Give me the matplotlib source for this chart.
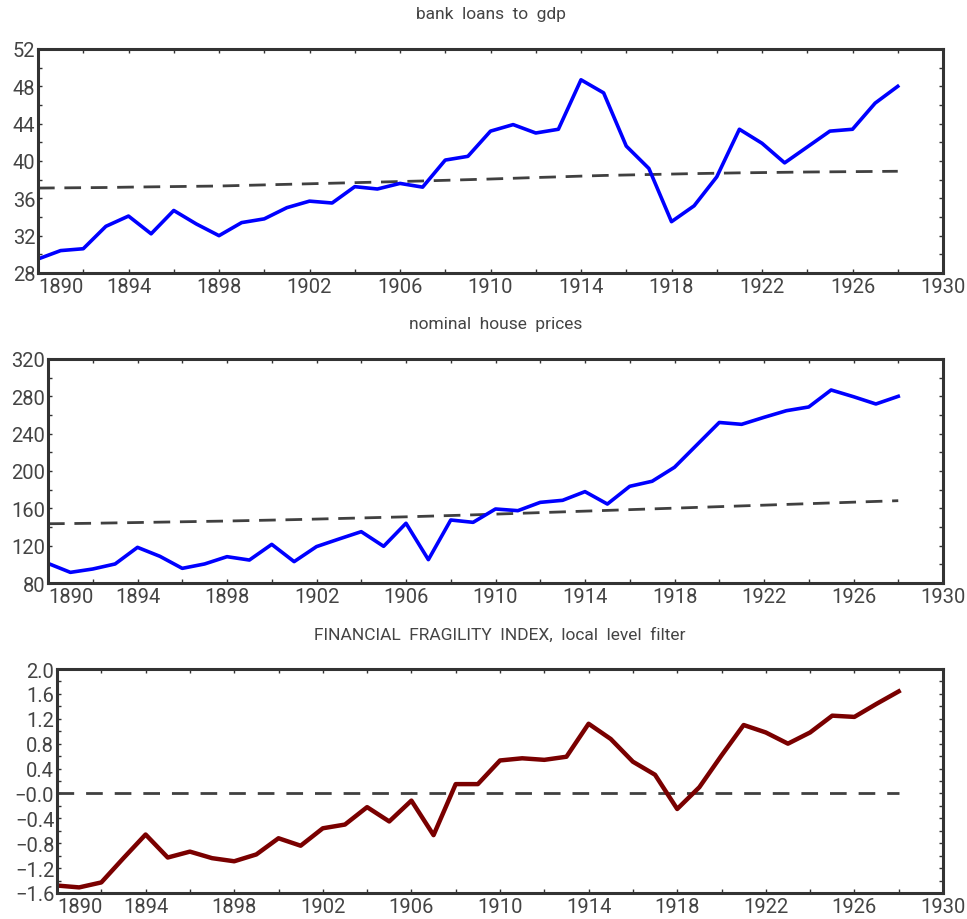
import numpy as np
import matplotlib
matplotlib.use("Agg")
import matplotlib.pyplot as plt
from matplotlib.ticker import FixedLocator, MultipleLocator

plt.rcParams['font.family'] = ['Roboto', 'Liberation Sans', 'DejaVu Sans']

years = list(range(1890, 1929))

loans_gdp = [29.5, 30.4, 30.6, 33.0, 34.1, 32.2, 34.7, 33.25, 32.0, 33.4,
             33.8, 35.0, 35.7, 35.5, 37.25, 37.0, 37.6, 37.2, 40.1, 40.5,
             43.2, 43.9, 43.0, 43.4, 48.7, 47.3, 41.6, 39.2, 33.5, 35.2,
             38.3, 43.4, 41.9, 39.8, 41.5, 43.2, 43.4, 46.2, 48.0]
loans_trend = [37.1, 37.12, 37.14, 37.16, 37.2, 37.23, 37.26, 37.29, 37.32, 37.38,
               37.44, 37.5, 37.56, 37.62, 37.68, 37.74, 37.8, 37.86, 37.93, 38.0,
               38.07, 38.15, 38.23, 38.3, 38.38, 38.45, 38.5, 38.55, 38.6, 38.65,
               38.69, 38.73, 38.76, 38.79, 38.82, 38.84, 38.86, 38.88, 38.9]

house_prices = [101, 91.4, 95, 100.4, 118.2, 108.6, 95.7, 100.4, 108.2, 104.6,
                121.4, 102.9, 119, 127.1, 135, 119.3, 144, 105, 147.5, 145,
                159.3, 157.5, 166.4, 168.6, 177.9, 164.6, 183.6, 189, 204, 228,
                252, 250, 257.5, 264.6, 268.6, 286.8, 279.6, 271.8, 280]
house_trend = [143.5, 143.7, 144.0, 144.4, 144.8, 145.2, 145.6, 146.0, 146.4, 146.9,
               147.4, 147.9, 148.5, 149.1, 149.7, 150.3, 150.9, 151.6, 152.3, 153.0,
               153.8, 154.6, 155.4, 156.2, 157.0, 157.8, 158.6, 159.4, 160.2, 161.0,
               161.8, 162.6, 163.4, 164.2, 165.0, 165.8, 166.6, 167.4, 168.2]

fragility = [-1.48, -1.51, -1.43, -1.04, -0.66, -1.03, -0.935, -1.04, -1.09, -0.98,
             -0.72, -0.84, -0.56, -0.50, -0.22, -0.45, -0.115, -0.67, 0.15, 0.15,
             0.53, 0.565, 0.54, 0.59, 1.12, 0.875, 0.51, 0.30, -0.25, 0.10,
             0.61, 1.10, 0.98, 0.80, 0.98, 1.25, 1.23, 1.44, 1.64]
fragility_zero = [0.0] * len(years)

x_ticks = [1890, 1894, 1898, 1902, 1906, 1910, 1914, 1918, 1922, 1926, 1930]
loans_ticks = [28, 32, 36, 40, 44, 48, 52]
house_ticks = [80, 120, 160, 200, 240, 280, 320]
frag_ticks = [-1.6, -1.2, -0.8, -0.4, 0.0, 0.4, 0.8, 1.2, 1.6, 2.0]
frag_labels = ['\u22121.6', '\u22121.2', '\u22120.8', '\u22120.4', '\u22120.0',
               '0.4', '0.8', '1.2', '1.6', '2.0']

text_col = '#444444'
spine_col = '#333333'
trend_col = '#404040'

fig = plt.figure(figsize=(9.67, 9.2), dpi=100)


def style_axes(ax, yticks, ylabels, ystep, title):
    ax.set_xlim(1890, 1930)
    ax.set_ylim(yticks[0], yticks[-1])
    ax.xaxis.set_major_locator(FixedLocator(x_ticks))
    ax.xaxis.set_minor_locator(MultipleLocator(2))
    ax.yaxis.set_major_locator(FixedLocator(yticks))
    ax.yaxis.set_minor_locator(MultipleLocator(ystep / 2))
    ax.set_xticklabels([str(t) for t in x_ticks])
    ax.set_yticklabels(ylabels)
    ax.tick_params(which='both', direction='in', top=True, right=True,
                   length=3, width=1, color=spine_col, labelcolor=text_col,
                   labelsize=14.5)
    ax.tick_params(axis='x', pad=3)
    ax.tick_params(axis='y', pad=2)
    # first year label sits just right of the y axis
    ax.get_xticklabels()[0].set_horizontalalignment('left')
    for s in ax.spines.values():
        s.set_linewidth(2.2)
        s.set_color(spine_col)
    ax.set_title(title, fontsize=12.5, color=text_col, pad=22)


# bank loans to gdp
ax1 = fig.add_axes([38 / 967, 646 / 920, 905 / 967, 224 / 920])
ax1.plot(years, loans_trend, color=trend_col, lw=2, dashes=(6, 3.5))
ax1.plot(years, loans_gdp, color='#0000ff', lw=2.6)
style_axes(ax1, loans_ticks, [str(t) for t in loans_ticks], 4, 'bank  loans  to  gdp')

# nominal house prices
ax2 = fig.add_axes([48 / 967, 336 / 920, 895 / 967, 224 / 920])
ax2.plot(years, house_trend, color=trend_col, lw=2, dashes=(6, 3.5))
ax2.plot(years, house_prices, color='#0000ff', lw=2.6)
style_axes(ax2, house_ticks, [str(t) for t in house_ticks], 40, 'nominal  house  prices')

# financial fragility index
ax3 = fig.add_axes([57 / 967, 26 / 920, 886 / 967, 224 / 920])
ax3.plot(years, fragility_zero, color=trend_col, lw=2, dashes=(6, 4.3))
ax3.plot(years, fragility, color='#7a0000', lw=3.2)
style_axes(ax3, frag_ticks, frag_labels, 0.4, 'FINANCIAL  FRAGILITY  INDEX,  local  level  filter')

fig.savefig('out.png', dpi=100)
